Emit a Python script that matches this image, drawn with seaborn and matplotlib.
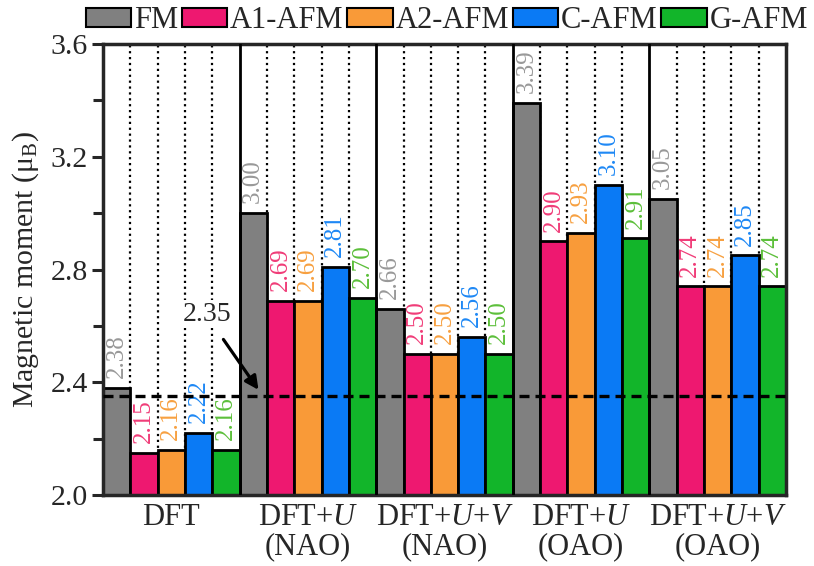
import seaborn as sns
import matplotlib.pyplot as plt
import pandas as pd

methods = ['DFT', 'DFT+$U$\n(NAO)', 'DFT+$U$+$V$\n(NAO)', 'DFT+$U$\n(OAO)', 'DFT+$U$+$V$\n(OAO)']
states = ['FM', 'A1-AFM', 'A2-AFM', 'C-AFM', 'G-AFM']
fm = [2.38, 3.00, 2.66, 3.39, 3.05]
a1_afm = [2.15, 2.69, 2.50, 2.90, 2.74]
a2_afm = [2.16, 2.69, 2.50, 2.93, 2.74]
c_afm = [2.22, 2.81, 2.56, 3.10, 2.85]
g_afm = [2.16, 2.70, 2.50, 2.91, 2.74]
ref_value = 2.35

bar_colors = ['#808080', '#ee1870', '#f99a38', '#0a7af5', '#12b52a']
text_colors = ['#999999', '#f03c78', '#f7a040', '#1e88f5', '#5cbf3a']

rows = []
for s, vals in zip(states, [fm, a1_afm, a2_afm, c_afm, g_afm]):
    for m, v in zip(methods, vals):
        rows.append({'method': m, 'state': s, 'moment': v})
df = pd.DataFrame(rows)

sns.set_style('ticks')
plt.rcParams['font.family'] = 'Liberation Serif'
plt.rcParams['mathtext.fontset'] = 'custom'
plt.rcParams['mathtext.rm'] = 'Liberation Serif'
plt.rcParams['mathtext.it'] = 'Liberation Serif:italic'

fig = plt.figure(figsize=(8.14, 5.66), dpi=100)
ax = fig.add_axes([0.1265, 0.1254, 0.8391, 0.7969])

sns.barplot(data=df, x='method', y='moment', hue='state', order=methods, hue_order=states,
            palette=bar_colors, width=1, dodge=True, edgecolor='black', linewidth=2,
            saturation=1, legend=False, ax=ax, zorder=2)

# dotted separators inside each group, solid between groups
for i in range(len(methods)):
    for off in [-0.3, -0.1, 0.1, 0.3]:
        ax.axvline(i + off, color='black', ls=':', lw=1.6, zorder=0.5)
    if i > 0:
        ax.axvline(i - 0.5, color='black', lw=2, zorder=3)

for cont, tc in zip(ax.containers, text_colors):
    ax.bar_label(cont, fmt='%.2f', rotation=90, padding=7, color=tc, fontsize=18)

ax.axhline(ref_value, color='black', ls=(0, (3, 1.8)), lw=2.4, zorder=4)
ax.text(0.26, 2.642, '2.35', fontsize=20, ha='center', va='center', zorder=5,
        bbox=dict(facecolor='white', edgecolor='none', pad=1))
ax.annotate('', xy=(0.65, 2.365), xytext=(0.37, 2.56),
            arrowprops=dict(arrowstyle='-|>', color='black', lw=2.3, mutation_scale=20),
            zorder=5)

ax.set_xlim(-0.5, 4.5)
ax.set_ylim(2.0, 3.6)
ax.set_yticks([2.0, 2.4, 2.8, 3.2, 3.6])
ax.set_yticks([2.2, 2.6, 3.0, 3.4], minor=True)
ax.set_ylabel('Magnetic moment (μ$_\\mathrm{B}$)', fontsize=21.5, labelpad=7)
ax.set_xlabel('')
ax.tick_params(axis='y', direction='out', length=8, width=2.2, labelsize=21.5, pad=3)
ax.tick_params(axis='y', which='minor', direction='out', length=7, width=2.2)
ax.tick_params(axis='x', length=0, labelsize=22, pad=6)
for t in ax.get_xticklabels():
    t.set_linespacing(1.0)
for sp in ax.spines.values():
    sp.set_linewidth(2.5)
    sp.set_visible(True)

handles = [plt.Rectangle((0, 0), 1, 1, facecolor=c, edgecolor='black', lw=1.5) for c in bar_colors]
fig.legend(handles, states, loc='center', bbox_to_anchor=(0.549, 0.963), ncol=5,
           frameon=False, fontsize=22, handlelength=1.48, handleheight=0.56,
           handletextpad=0.09, columnspacing=0.13, borderpad=0, borderaxespad=0)

fig.savefig('out.png', dpi=100)
